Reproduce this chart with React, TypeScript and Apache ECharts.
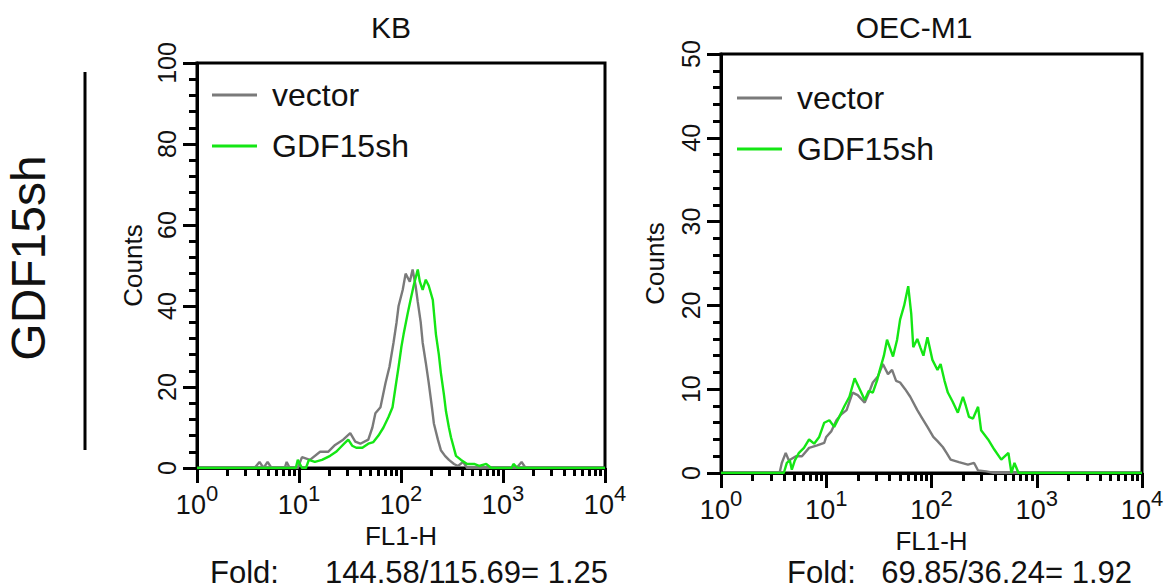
import React, { useEffect, useRef } from "react";
import * as echarts from "echarts";

// ---------- data ----------
const panelTitles = ["KB", "OEC-M1"];
const seriesNames = ["vector", "GDF15sh"];
const foldLabels = ["144.58/115.69= 1.25", "69.85/36.24= 1.92"];
const decadeTicks = [1, 10, 100, 1000, 10000];
const minorTickValues = [
  2, 3, 4, 5, 6, 7, 8, 9,
  20, 30, 40, 50, 60, 70, 80, 90,
  200, 300, 400, 500, 600, 700, 800, 900,
  2000, 3000, 4000, 5000, 6000, 7000, 8000, 9000,
];

// KB – vector
const kbVectorX = [1, 3.66, 4.1, 4.49, 4.92, 5.38, 7.24, 7.57, 8.11, 9.73, 10.7, 12.8, 16.1, 19.3, 22.6, 27.1, 31.8, 35.6, 39.9, 47.8, 52.4, 56.1, 62.9, 70.5, 77.1, 84.5, 90.5, 94.7, 104, 111, 122, 130, 139, 146, 156, 163, 175, 187, 201, 210, 230, 246, 270, 295, 331, 362, 406, 445, 1356, 1521, 1665, 10000];
const kbVectorY = [0, 0, 1.5, 0, 1.5, 0, 0, 1.5, 0, 0, 2.7, 2, 4, 4, 5.7, 7, 8.6, 6.5, 6, 7, 10, 13.5, 15, 21, 25, 31, 36, 40, 44, 48, 46, 49, 45, 41, 36, 31, 26, 21, 15, 11, 7, 4.4, 3, 2, 1, 0.5, 1.5, 0, 0, 1.5, 0, 0];

// KB – GDF15sh
const kbShX = [1, 9.3, 9.73, 10.7, 11.7, 12.5, 14.3, 16.8, 20.2, 23.1, 25.3, 27.7, 30.4, 33.2, 36.4, 41.8, 47.8, 53.6, 60.1, 67.3, 75.4, 82.6, 88.4, 94.7, 101, 106, 116, 124, 133, 146, 153, 163, 175, 187, 205, 220, 235, 246, 264, 276, 295, 309, 346, 388, 445, 521, 584, 685, 768, 1211, 1267, 1388, 10000];
const kbShY = [0, 0, 2, 0, 0, 2, 1.5, 2, 3, 4, 5, 6, 7, 5.5, 5, 5, 6, 6.4, 8, 10, 12.6, 15, 20, 25, 30, 33, 38, 41.5, 45, 49, 46, 44, 46.5, 45, 41.5, 33, 28, 23.5, 18, 14, 10, 7.6, 3, 2, 1, 1, 0.5, 1, 0, 0, 1, 0, 0];

// OEC-M1 – vector
const oecVectorX = [1, 3.6, 3.78, 4.12, 4.41, 5.15, 5.88, 6.87, 8.19, 9.57, 10, 11.2, 12.5, 13.9, 15.6, 17.8, 19.9, 23.2, 25.3, 27.7, 30.9, 34.5, 38.6, 42.2, 46.1, 50.3, 56.2, 62.8, 73.3, 81.9, 91.5, 104, 114, 128, 139, 152, 182, 222, 254, 277, 330, 395, 10000];
const oecVectorY = [0, 0, 1.2, 2.4, 1.5, 2, 2, 3, 3.3, 3.6, 4.3, 5, 6.3, 7, 7.5, 9.6, 9.3, 8.4, 9.5, 10.8, 11.5, 13, 11.8, 12.3, 11, 10.8, 10, 9.1, 7.5, 6.5, 5.5, 4.3, 3.8, 3.1, 2.4, 1.6, 1.3, 1, 1.2, 0.3, 0.2, 0, 0];

// OEC-M1 – GDF15sh
const oecShX = [1, 3.95, 4.22, 4.51, 4.71, 5.03, 5.5, 6.14, 6.87, 7.67, 8.57, 9.57, 10.7, 11.9, 13.3, 14.9, 16.6, 18.6, 20.8, 23.2, 25.3, 27.7, 30.3, 32.3, 35.3, 37.8, 43.1, 47.1, 50.3, 55, 60.1, 64.2, 67.1, 73.3, 78.3, 83.8, 91.5, 102, 114, 122, 133, 143, 159, 178, 199, 212, 227, 248, 277, 296, 345, 395, 460, 538, 575, 614, 671, 10000];
const oecShY = [0, 0, 1.2, 1.5, 0.4, 1.5, 2.4, 3, 4, 3.5, 4.3, 6, 6.3, 5.5, 6.7, 8, 9.1, 11.3, 10, 8.7, 9.8, 9.6, 11, 12.3, 14, 15.9, 13.9, 15.9, 18.3, 20, 22.3, 19, 15, 16, 15, 14, 16.2, 13.5, 12.3, 13, 11, 9.6, 8.5, 7.2, 9.1, 8, 6.7, 6.5, 7.9, 5.1, 4, 2.8, 1.6, 2.4, 0, 1.2, 0, 0];

const zip = (xs: number[], ys: number[]) => xs.map((x, i) => [x, ys[i]]);

const FONT = "'Liberation Sans', Arial, Helvetica, sans-serif";
const GRAY = "#7a7a7a";
const GREEN = "#14e614";
const INK = "#111";

export default function App() {
  const ref = useRef<HTMLDivElement>(null);

  useEffect(() => {
    if (!ref.current) return;
    const chart = echarts.init(ref.current, undefined, { renderer: "svg" });

    const gridBoxes = [
      { left: 197, top: 63, width: 408, height: 405 },
      { left: 721, top: 54, width: 421, height: 419 },
    ];

    const majorX = (gridIndex: number) => ({
      gridIndex,
      type: "log",
      logBase: 10,
      min: decadeTicks[0],
      max: decadeTicks[decadeTicks.length - 1],
      axisLine: { show: true, lineStyle: { color: "#000", width: 3 } },
      axisTick: { show: true, length: 15, lineStyle: { color: "#000", width: 3 } },
      splitLine: { show: false },
      minorTick: { show: false },
      axisLabel: {
        margin: 14,
        formatter: (v: number) => `{b|10}{s|${Math.round(Math.log10(v))}}`,
        rich: {
          b: { fontSize: 27, fontFamily: FONT, color: INK, verticalAlign: "bottom" },
          s: { fontSize: 22, fontFamily: FONT, color: INK, verticalAlign: "top", lineHeight: 36 },
        },
      },
      name: "FL1-H",
      nameLocation: "middle",
      nameGap: 54,
      nameTextStyle: { fontSize: 26, fontFamily: FONT, color: INK },
    });

    const minorX = (gridIndex: number) => ({
      gridIndex,
      type: "log",
      logBase: 10,
      position: "bottom",
      min: decadeTicks[0],
      max: decadeTicks[decadeTicks.length - 1],
      axisLine: { show: false },
      axisTick: { show: true, length: 8, customValues: minorTickValues, lineStyle: { color: "#000", width: 3 } },
      axisLabel: { show: false },
      splitLine: { show: false },
    });

    const yAxisDef = (gridIndex: number, max: number, interval: number, nameGap: number) => ({
      gridIndex,
      type: "value",
      min: 0,
      max,
      interval,
      axisLine: { show: true, lineStyle: { color: "#000", width: 3 } },
      axisTick: { show: true, length: 14, lineStyle: { color: "#000", width: 3 } },
      minorTick: { show: true, splitNumber: 5, length: 8, lineStyle: { color: "#000", width: 3 } },
      splitLine: { show: false },
      axisLabel: { rotate: 90, margin: 18, fontSize: 25, fontFamily: FONT, color: INK },
      name: "Counts",
      nameLocation: "middle",
      nameGap,
      nameTextStyle: { fontSize: 26, fontFamily: FONT, color: INK },
    });

    const legendDef = (left: number, top: number) => ({
      left,
      top,
      padding: 0,
      orient: "vertical",
      icon: "rect",
      itemWidth: 45,
      itemHeight: 3,
      itemGap: 19,
      selectedMode: false,
      data: seriesNames,
      textStyle: { fontSize: 32, fontFamily: FONT, color: INK, padding: [0, 0, 0, 10] },
    });

    const lineSeries = (name: string, xIdx: number, yIdx: number, data: number[][], color: string, z: number) => ({
      type: "line",
      name,
      xAxisIndex: xIdx,
      yAxisIndex: yIdx,
      data,
      symbol: "none",
      showSymbol: false,
      z,
      lineStyle: { color, width: 2.4 },
      itemStyle: { color },
    });

    const textEl = (text: string, x: number, y: number, size: number, align = "center") => ({
      type: "text",
      x,
      y,
      style: { text, fontSize: size, fontFamily: FONT, fill: INK, align, verticalAlign: "middle" },
    });

    const option: any = {
      animation: false,
      textStyle: { fontFamily: FONT },
      grid: gridBoxes.map((g) => ({ ...g, show: true, borderColor: "#000", borderWidth: 3, backgroundColor: "transparent", containLabel: false })),
      xAxis: [majorX(0), minorX(0), majorX(1), minorX(1)],
      yAxis: [yAxisDef(0, 100, 20, 51), yAxisDef(1, 50, 10, 53)],
      legend: [legendDef(212, 79), legendDef(737, 82)],
      series: [
        lineSeries(seriesNames[0], 0, 0, zip(kbVectorX, kbVectorY), GRAY, 2),
        lineSeries(seriesNames[1], 0, 0, zip(kbShX, kbShY), GREEN, 3),
        lineSeries(seriesNames[0], 2, 1, zip(oecVectorX, oecVectorY), GRAY, 2),
        lineSeries(seriesNames[1], 2, 1, zip(oecShX, oecShY), GREEN, 3),
      ],
      graphic: [
        textEl(panelTitles[0], 391, 27, 30),
        textEl(panelTitles[1], 914, 27, 30),
        textEl("Fold:", 210, 572, 31, "left"),
        textEl(foldLabels[0], 608, 572, 31, "right"),
        textEl("Fold:", 787, 572, 31, "left"),
        textEl(foldLabels[1], 1132, 572, 31, "right"),
        {
          type: "text",
          x: 28,
          y: 258,
          rotation: Math.PI / 2,
          style: { text: "GDF15sh", fontSize: 48, fontFamily: FONT, fill: INK, align: "center", verticalAlign: "middle" },
        },
        {
          type: "line",
          shape: { x1: 85, y1: 72, x2: 85, y2: 450 },
          style: { stroke: "#000", lineWidth: 3 },
        },
      ],
    };

    chart.setOption(option);
    return () => chart.dispose();
  }, []);

  return (
    <div
      ref={ref}
      style={{ position: "absolute", left: 0, top: 0, width: 1167, height: 588, background: "#fff" }}
    />
  );
}
